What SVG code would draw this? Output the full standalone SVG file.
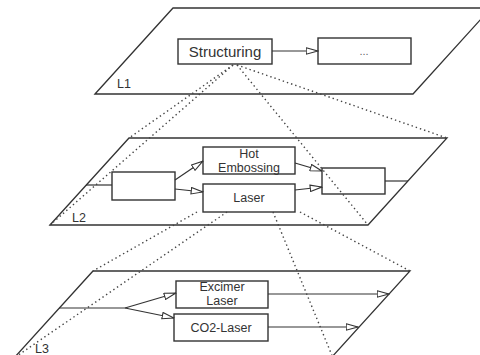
<svg xmlns="http://www.w3.org/2000/svg" width="480" height="355" viewBox="0 0 480 355">
<style>
.plane{fill:none;stroke:#333;stroke-width:1.3}
.box{fill:#fff;stroke:#333;stroke-width:1.4}
.ln{fill:none;stroke:#333;stroke-width:1.2}
.dot{fill:none;stroke:#444;stroke-width:1.4;stroke-dasharray:1.4 3}
text{font-family:"Liberation Sans",Arial,sans-serif;fill:#333;text-anchor:middle}
.lbl{font-size:12.5px;text-anchor:start}
.t{font-size:12.5px}
</style>
<defs>
<marker id="ah" viewBox="0 0 13 8" refX="12.5" refY="4" markerWidth="13" markerHeight="8" markerUnits="userSpaceOnUse" orient="auto">
<path d="M0.7,0.8 L12.3,4 L0.7,7.2 z" fill="#fff" stroke="#333" stroke-width="1.1"/>
</marker>
</defs>
<g id="planes">
<polygon id="L1" class="plane" points="95,94 173,8 491,8 413,94"/>
<polygon id="L2" class="plane" points="50,225 129,138 447,138 368,225"/>
<polygon id="L3" class="plane" points="14,358 93,271 410,271 331,358"/>
<text class="lbl" x="117" y="88">L1</text>
<text class="lbl" x="72" y="222">L2</text>
<text class="lbl" x="35" y="353">L3</text>
</g>
<g id="structuring"><rect class="box" x="178" y="39" width="94" height="25"/><text x="225" y="57" font-size="15">Structuring</text></g>
<g id="more"><rect class="box" x="318" y="38" width="93" height="26"/><text x="364" y="55" font-size="11" style="fill:#666">...</text></g>
<g id="l2-in"><rect class="box" x="112" y="172" width="63" height="28"/></g>
<g id="hot-embossing"><rect class="box" x="203" y="147" width="92" height="27"/><text class="t" x="249" y="158">Hot</text><text class="t" x="249" y="171.5">Embossing</text></g>
<g id="laser"><rect class="box" x="203" y="184" width="92" height="28"/><text class="t" x="249" y="202">Laser</text></g>
<g id="l2-out"><rect class="box" x="322" y="168" width="63" height="26"/></g>
<g id="excimer"><rect class="box" x="176" y="281" width="92" height="27"/><text class="t" x="222" y="291">Excimer</text><text class="t" x="222" y="304.5">Laser</text></g>
<g id="co2"><rect class="box" x="174" y="314" width="94" height="27"/><text class="t" x="221" y="332">CO2-Laser</text></g>
<g id="connectors">
<line class="ln" x1="272" y1="51" x2="318" y2="51" marker-end="url(#ah)"/>
<line class="ln" x1="86" y1="185" x2="112" y2="185"/>
<line class="ln" x1="175" y1="180" x2="203" y2="161" marker-end="url(#ah)"/>
<line class="ln" x1="175" y1="189" x2="203" y2="192" marker-end="url(#ah)"/>
<line class="ln" x1="295" y1="163" x2="322" y2="171" marker-end="url(#ah)"/>
<line class="ln" x1="295" y1="190" x2="322" y2="187" marker-end="url(#ah)"/>
<line class="ln" x1="385" y1="181" x2="408" y2="181"/>
<polyline class="ln" points="59,308 125,308"/>
<line class="ln" x1="125" y1="308" x2="176" y2="293" marker-end="url(#ah)"/>
<line class="ln" x1="125" y1="308" x2="174" y2="318" marker-end="url(#ah)"/>
<line class="ln" x1="268" y1="294" x2="389" y2="294" marker-end="url(#ah)"/>
<line class="ln" x1="268" y1="327" x2="358" y2="327" marker-end="url(#ah)"/>
<line class="dot" x1="233" y1="65" x2="129" y2="138"/>
<line class="dot" x1="233" y1="65" x2="50" y2="225"/>
<line class="dot" x1="237" y1="65" x2="368" y2="225"/>
<line class="dot" x1="237" y1="65" x2="447" y2="138"/>
<line class="dot" x1="197" y1="212" x2="93" y2="271"/>
<line class="dot" x1="227" y1="212" x2="14" y2="358"/>
<line class="dot" x1="273" y1="212" x2="333" y2="358"/>
<line class="dot" x1="300" y1="212" x2="410" y2="271"/>
</g>
</svg>
